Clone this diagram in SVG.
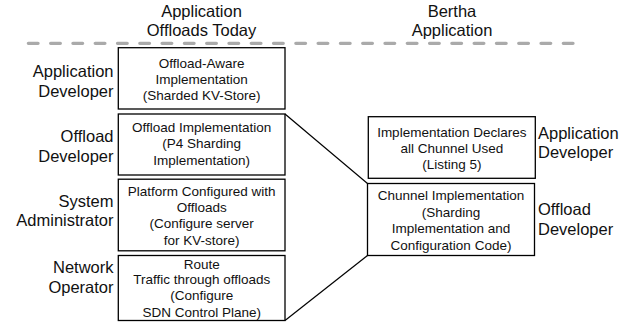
<svg xmlns="http://www.w3.org/2000/svg" width="631" height="322" viewBox="0 0 631 322">
<style>
.box{fill:#fff;stroke:#000;stroke-width:1.3}
.bt{font-family:"Liberation Sans",Arial,sans-serif;font-size:13.5px;fill:#111;text-anchor:middle}
.lbl{font-family:"Liberation Sans",Arial,sans-serif;font-size:16.5px;fill:#111}
.end{text-anchor:end}
.mid{text-anchor:middle}
.conn{stroke:#000;stroke-width:1.2;fill:none}
</style>
<rect width="631" height="322" fill="#fff"/>
<g id="headers">
<text class="lbl mid" x="201.5" y="16.5">Application</text>
<text class="lbl mid" x="201.5" y="36">Offloads Today</text>
<text class="lbl mid" x="452" y="16.5">Bertha</text>
<text class="lbl mid" x="452" y="36">Application</text>
</g>
<line id="divider" x1="28.35" y1="43.3" x2="573.35" y2="43.3" stroke="#aaaaaa" stroke-width="3.3" stroke-linecap="round" stroke-dasharray="9.7 12.59"/>
<g id="roles-left">
<text class="lbl end" x="113.5" y="77.3">Application</text>
<text class="lbl end" x="113.5" y="96.7">Developer</text>
<text class="lbl end" x="113.5" y="141.7">Offload</text>
<text class="lbl end" x="113.5" y="161.5">Developer</text>
<text class="lbl end" x="113.5" y="206.5">System</text>
<text class="lbl end" x="113.5" y="225.7">Administrator</text>
<text class="lbl end" x="113.5" y="273.3">Network</text>
<text class="lbl end" x="113.5" y="293.3">Operator</text>
</g>
<g id="roles-right">
<text class="lbl" x="538" y="139">Application</text>
<text class="lbl" x="538" y="158.3">Developer</text>
<text class="lbl" x="538" y="215">Offload</text>
<text class="lbl" x="538" y="235">Developer</text>
</g>
<g id="connectors">
<line class="conn" x1="285" y1="114" x2="367.5" y2="183.5"/>
<line class="conn" x1="285" y1="320.5" x2="367.5" y2="255.5"/>
</g>
<g id="offload-aware">
<rect class="box" x="118.3" y="47.7" width="166.7" height="61.3"/>
<text class="bt" x="201.7" y="67.7">Offload-Aware</text>
<text class="bt" x="201.7" y="84.2">Implementation</text>
<text class="bt" x="201.7" y="100.3">(Sharded KV-Store)</text>
</g>
<g id="offload-impl">
<rect class="box" x="118.3" y="114" width="166.7" height="61"/>
<text class="bt" x="201.7" y="131.7">Offload Implementation</text>
<text class="bt" x="201.7" y="148.3">(P4 Sharding</text>
<text class="bt" x="201.7" y="165.2">Implementation)</text>
</g>
<g id="platform">
<rect class="box" x="118.3" y="179.2" width="166.7" height="71.6"/>
<text class="bt" x="201.7" y="195.7">Platform Configured with</text>
<text class="bt" x="201.7" y="211.9">Offloads</text>
<text class="bt" x="201.7" y="228.3">(Configure server</text>
<text class="bt" x="201.7" y="245">for KV-store)</text>
</g>
<g id="route">
<rect class="box" x="118.3" y="255.5" width="166.7" height="65"/>
<text class="bt" x="201.7" y="268.5">Route</text>
<text class="bt" x="201.7" y="284.3">Traffic through offloads</text>
<text class="bt" x="201.7" y="300.3">(Configure</text>
<text class="bt" x="201.7" y="316.7">SDN Control Plane)</text>
</g>
<g id="declares">
<rect class="box" x="368.3" y="116.7" width="167" height="61.6"/>
<text class="bt" x="451.8" y="136.5">Implementation Declares</text>
<text class="bt" x="451.8" y="152.9">all Chunnel Used</text>
<text class="bt" x="451.8" y="169.3">(Listing 5)</text>
</g>
<g id="chunnel-impl">
<rect class="box" x="367.5" y="183.5" width="167" height="72"/>
<text class="bt" x="451" y="200">Chunnel Implementation</text>
<text class="bt" x="451" y="216.7">(Sharding</text>
<text class="bt" x="451" y="233.2">Implementation and</text>
<text class="bt" x="451" y="249.5">Configuration Code)</text>
</g>
</svg>
